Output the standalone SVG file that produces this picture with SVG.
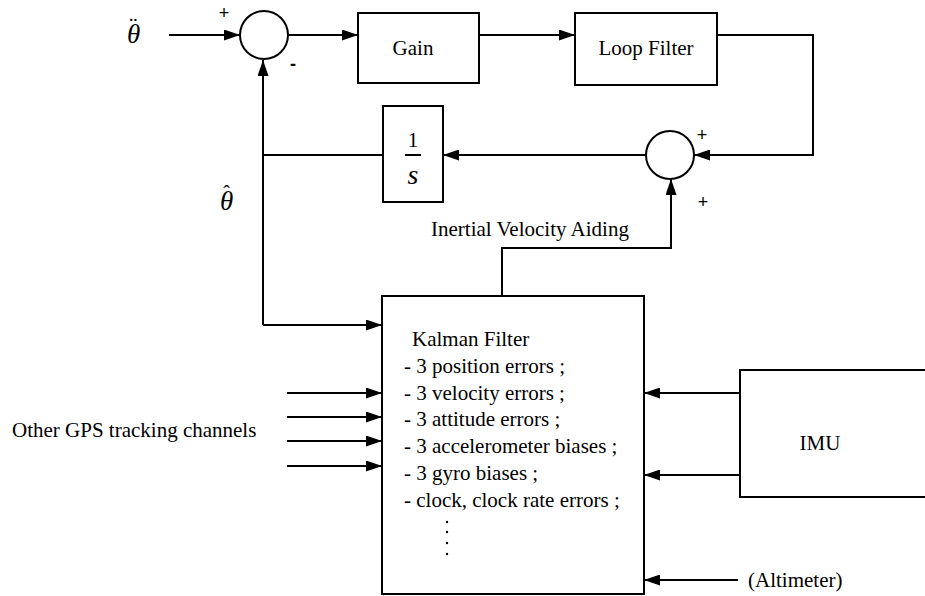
<svg xmlns="http://www.w3.org/2000/svg" width="925" height="596" viewBox="0 0 925 596">
<style>
.box{fill:#fff;stroke:#000;stroke-width:2}
.ln{fill:none;stroke:#000;stroke-width:2}
.t{font-family:"Liberation Serif","Times New Roman",serif;font-size:21px;fill:#000}
.it{font-family:"Liberation Serif","Times New Roman",serif;font-style:italic;fill:#000}
.sg{font-family:"Liberation Sans",Arial,sans-serif;font-size:18px;fill:#000}
</style>
<defs>
<marker id="ah" markerWidth="16" markerHeight="11" refX="16" refY="5.5" orient="auto" markerUnits="userSpaceOnUse">
<path d="M0,0 L16,5.5 L0,11 z" fill="#000"/>
</marker>
</defs>
<rect width="925" height="596" fill="#fff"/>
<g id="connectors">
<path class="ln" d="M169,35 H240" marker-end="url(#ah)"/>
<path class="ln" d="M288,35 H358" marker-end="url(#ah)"/>
<path class="ln" d="M479,35 H575" marker-end="url(#ah)"/>
<path class="ln" d="M717,35 H813 V155 H694" marker-end="url(#ah)"/>
<path class="ln" d="M646,155 H443" marker-end="url(#ah)"/>
<path class="ln" d="M383,155 H263"/>
<path class="ln" d="M263,325 V60" marker-end="url(#ah)"/>
<path class="ln" d="M263,325 H382" marker-end="url(#ah)"/>
<path class="ln" d="M502,296 V248 H671 V179" marker-end="url(#ah)"/>
<path class="ln" d="M287,393 H382" marker-end="url(#ah)"/>
<path class="ln" d="M287,417 H382" marker-end="url(#ah)"/>
<path class="ln" d="M287,441 H382" marker-end="url(#ah)"/>
<path class="ln" d="M287,466 H382" marker-end="url(#ah)"/>
<path class="ln" d="M740,393 H644" marker-end="url(#ah)"/>
<path class="ln" d="M740,475 H644" marker-end="url(#ah)"/>
<path class="ln" d="M738,580 H644" marker-end="url(#ah)"/>
</g>
<g id="input-label">
<text class="it" x="127" y="43" font-size="27">θ<tspan font-family="Liberation Serif, serif" font-style="normal" font-size="24" dx="-11" dy="-10">¨</tspan></text>
</g>
<g id="sum1">
<circle class="box" cx="264" cy="35" r="24"/>
<text class="sg" x="224" y="19" text-anchor="middle">+</text>
<text class="sg" x="293" y="70" text-anchor="middle" font-weight="bold">-</text>
</g>
<g id="gain">
<rect class="box" x="358" y="13" width="121" height="70"/>
<text class="t" x="413" y="55" text-anchor="middle">Gain</text>
</g>
<g id="loopfilter">
<rect class="box" x="575" y="13" width="142" height="72"/>
<text class="t" x="646" y="55" text-anchor="middle">Loop Filter</text>
</g>
<g id="sum2">
<circle class="box" cx="670" cy="155" r="24"/>
<text class="sg" x="702" y="141" text-anchor="middle">+</text>
<text class="sg" x="703" y="208" text-anchor="middle">+</text>
</g>
<g id="integrator">
<rect class="box" x="383" y="106" width="60" height="96"/>
<text class="t" x="413" y="147" text-anchor="middle" font-size="22">1</text>
<line class="ln" x1="405" y1="155" x2="421" y2="155"/>
<text class="it" x="413" y="184" text-anchor="middle" font-size="28">s</text>
</g>
<g id="feedback-label">
<text class="it" x="220" y="210" font-size="27">θ<tspan font-family="Liberation Serif, serif" font-style="normal" font-size="20" dx="-10" dy="-10">ˆ</tspan></text>
</g>
<g id="aiding-label">
<text class="t" x="431" y="236">Inertial Velocity Aiding</text>
</g>
<g id="kalman">
<rect class="box" x="382" y="296" width="262" height="298"/>
<text class="t" x="412" y="346" font-size="25">Kalman Filter</text>
<text class="t" x="404" y="373">- 3 position errors ;</text>
<text class="t" x="404" y="400">- 3 velocity errors ;</text>
<text class="t" x="404" y="426">- 3 attitude errors ;</text>
<text class="t" x="404" y="453">- 3 accelerometer biases ;</text>
<text class="t" x="404" y="480">- 3 gyro biases ;</text>
<text class="t" x="404" y="507">- clock, clock rate errors ;</text>
<circle cx="447" cy="522" r="1.2" fill="#000"/>
<circle cx="447" cy="532" r="1.2" fill="#000"/>
<circle cx="447" cy="543" r="1.2" fill="#000"/>
<circle cx="447" cy="554" r="1.2" fill="#000"/>
</g>
<g id="gps-label">
<text class="t" x="12" y="437">Other GPS tracking channels</text>
</g>
<g id="imu">
<rect class="box" x="740" y="370" width="200" height="127"/>
<text class="t" x="820" y="450" text-anchor="middle" font-size="22">IMU</text>
</g>
<g id="altimeter">
<text class="t" x="748" y="587">(Altimeter)</text>
</g>
</svg>
